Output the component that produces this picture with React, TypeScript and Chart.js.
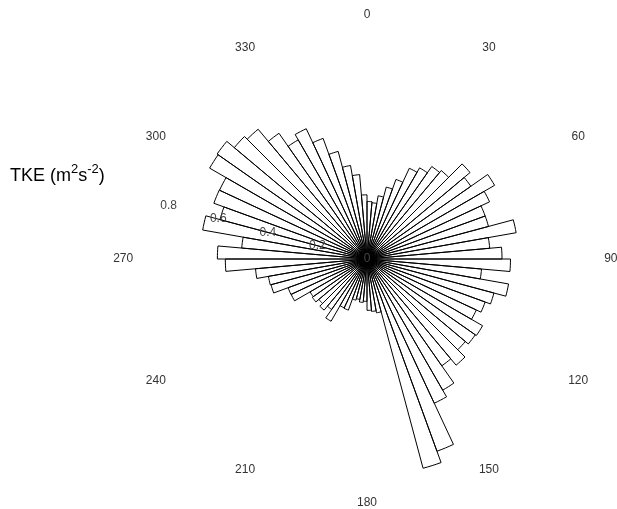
import React, { useEffect, useRef } from 'react';
import { Chart, registerables } from 'chart.js';

Chart.register(...registerables);

// Wind direction bins (start of each 5-degree sector)
const directionBins = [
  0, 5, 10, 15, 20, 25, 30, 35, 40, 45,
  50, 55, 60, 65, 70, 75, 80, 85,
  90, 95, 100, 105, 110, 115, 120, 125, 130, 135,
  140, 145, 150, 155, 160, 165, 170, 175,
  180, 185, 190, 195, 200, 205, 210, 215, 220, 225,
  230, 235, 240, 245, 250, 255, 260, 265,
  270, 275, 280, 285, 290, 295, 300, 305, 310, 315,
  320, 325, 330, 335, 340, 345, 350, 355,
];

// Mean TKE (m^2 s^-2) per sector
const tkeValues = [
  0.224, 0.22, 0.25, 0.29, 0.33, 0.39, 0.41, 0.44, 0.45, 0.524,
  0.494, 0.574, 0.527, 0.49, 0.49, 0.59, 0.48, 0.526,
  0.559, 0.448, 0.56, 0.512, 0.49, 0.47, 0.52, 0.515, 0.5, 0.54,
  0.508, 0.59, 0.62, 0.797, 0.844, 0.213, 0.205, 0.2,
  0.165, 0.17, 0.16, 0.166, 0.212, 0.21, 0.28, 0.24, 0.26, 0.245,
  0.26, 0.256, 0.326, 0.327, 0.387, 0.39, 0.436, 0.552,
  0.583, 0.49, 0.65, 0.593, 0.635, 0.634, 0.708, 0.713, 0.675, 0.66,
  0.598, 0.536, 0.56, 0.5, 0.434, 0.37, 0.33, 0.25,
];

const compassAngles = [0, 30, 60, 90, 120, 150, 180, 210, 240, 270, 300, 330];
const compassLabels = ['0', '30', '60', '90', '120', '150', '180', '210', '240', '270', '300', '330'];

const radialTicks = [0, 0.2, 0.4, 0.6, 0.8];
const radialTickLabels = ['0', '0.2', '0.4', '0.6', '0.8'];
const radialLabelAngle = 285;
const compassLabelRadius = 0.95;
const radialMax = 0.9;

const FONT = '"Liberation Sans", Arial, Helvetica, sans-serif';

const labelPlugin = {
  id: 'roseLabels',
  afterDatasetsDraw(chart: any) {
    const scale = chart.scales.r;
    const ctx = chart.ctx;
    const cx = scale.xCenter;
    const cy = scale.yCenter;
    ctx.save();
    ctx.fillStyle = '#333333';
    ctx.font = `12px ${FONT}`;
    ctx.textAlign = 'center';
    ctx.textBaseline = 'middle';
    const toXY = (deg: number, value: number) => {
      const d = scale.getDistanceFromCenterForValue(value);
      const a = (deg * Math.PI) / 180;
      return [cx + d * Math.sin(a), cy - d * Math.cos(a)];
    };
    compassAngles.forEach((deg, i) => {
      const [x, y] = toXY(deg, compassLabelRadius);
      ctx.fillText(compassLabels[i], x, y);
    });
    ctx.fillStyle = '#444444';
    radialTicks.forEach((v, i) => {
      const [x, y] = toXY(radialLabelAngle, v);
      ctx.fillText(radialTickLabels[i], x, y);
    });

    // Axis title: TKE (m^2 s^-2)
    ctx.fillStyle = '#000000';
    ctx.textAlign = 'left';
    ctx.textBaseline = 'alphabetic';
    let x = 10;
    const base = 181;
    const big = `18px ${FONT}`;
    const small = `13px ${FONT}`;
    const parts: [string, boolean][] = [
      ['TKE (m', false],
      ['2', true],
      ['s', false],
      ['-2', true],
      [')', false],
    ];
    parts.forEach(([t, sup]) => {
      ctx.font = sup ? small : big;
      ctx.fillText(t, x, sup ? base - 8 : base);
      x += ctx.measureText(t).width;
    });
    ctx.restore();
  },
};

export default function App() {
  const canvasRef = useRef<HTMLCanvasElement | null>(null);

  useEffect(() => {
    if (!canvasRef.current) return;
    const chart = new Chart(canvasRef.current, {
      type: 'polarArea',
      data: {
        labels: directionBins.map(String),
        datasets: [
          {
            data: tkeValues,
            backgroundColor: 'rgba(255,255,255,0)',
            borderColor: '#000000',
            borderWidth: 1,
            borderAlign: 'center',
            borderJoinStyle: 'miter',
          } as any,
        ],
      },
      options: {
        responsive: false,
        animation: false,
        layout: { padding: { left: 136, right: 19, top: 28, bottom: 19 } },
        plugins: {
          legend: { display: false },
          tooltip: { enabled: false },
        },
        scales: {
          r: {
            min: 0,
            max: radialMax,
            startAngle: 0,
            grid: { display: false },
            angleLines: { display: false },
            ticks: { display: false },
            pointLabels: { display: false },
          } as any,
        },
      },
      plugins: [labelPlugin],
    });
    return () => chart.destroy();
  }, []);

  return (
    <div style={{ position: 'absolute', left: 0, top: 0, width: 617, height: 509, background: '#ffffff' }}>
      <canvas ref={canvasRef} width={617} height={509} style={{ display: 'block' }} />
    </div>
  );
}
